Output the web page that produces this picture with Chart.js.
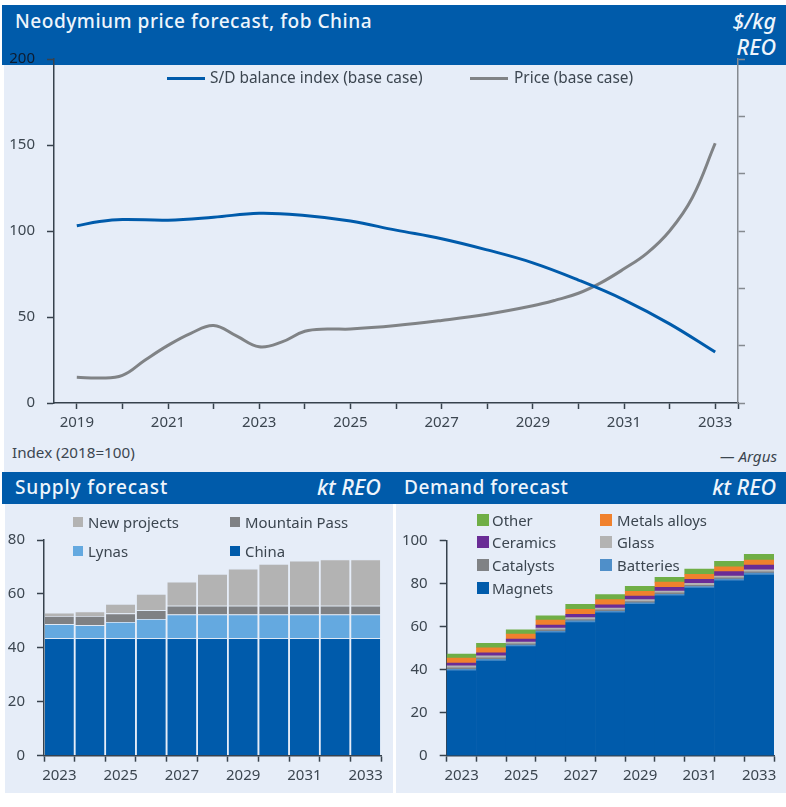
<!DOCTYPE html>
<html>
<head>
<meta charset="utf-8">
<script src="https://cdn.jsdelivr.net/npm/chart.js@4"></script>
<style>
    html, body { margin: 0; padding: 0; background: #fff; }
    body { position: relative; width: 786px; height: 807px; overflow: hidden; font-family: "Noto Sans", sans-serif; color: #3c4650; }
    .box { position: absolute; }
    .panel { background: #e6edf8; }
    .head { background: #005baa; }
    .txt { position: absolute; white-space: nowrap; line-height: 20px; margin-top: -10px; font-size: 14.9px; }
    .title { color: #eef5fc; font-size: 19.1px; font-weight: 500; letter-spacing: 0.5px; line-height: 26px; margin-top: -13px; }
    .unit { color: #eef5fc; font-size: 21.5px; font-weight: 500; font-style: italic; line-height: 26px; margin-top: -13px; }
    canvas { position: absolute; }
</style>
</head>
<body>
<div class="box panel" style="left:4px;top:65px;width:782px;height:407px"></div>
<div class="box panel" style="left:5px;top:504px;width:388px;height:289px"></div>
<div class="box panel" style="left:396px;top:504px;width:390px;height:289px"></div>
<div class="box head" style="left:2px;top:5px;width:784px;height:60px"></div>
<div class="box head" style="left:2px;top:472px;width:784px;height:32px"></div>

<div class="txt title" style="left:15px;top:21px">Neodymium price forecast, fob China</div>
<div class="txt unit" style="right:10px;top:21px">$/kg</div>
<div class="txt unit" style="right:10px;top:47px">REO</div>
<div class="txt title" style="left:15px;top:487px;letter-spacing:0.85px">Supply forecast</div>
<div class="txt unit" style="left:317px;top:487px">kt REO</div>
<div class="txt title" style="left:404px;top:487px">Demand forecast</div>
<div class="txt unit" style="right:10px;top:487px">kt REO</div>
<div class="txt" style="left:12px;top:452px;font-size:15.2px">Index (2018=100)</div>
<div class="txt" style="right:9px;top:456px;font-style:italic;font-size:15.2px">— Argus</div>

<canvas id="priceChart" style="left:0;top:38px" width="786" height="410"></canvas>
<canvas id="supplyChart" style="left:0;top:505px" width="395" height="295"></canvas>
<canvas id="demandChart" style="left:395px;top:505px" width="391" height="295"></canvas>
<div id="legends"></div>

<script>
// top chart (half years only where the curve bends)
const balanceYears = [2019, 2019.5, 2020, 2021, 2022, 2023, 2024, 2025, 2026, 2027, 2028, 2029, 2030, 2031, 2032, 2033];
const balanceValues = [103, 105.5, 106.7, 106.3, 108, 110.3, 109, 105.8, 100.5, 95.5, 89, 81.5, 71.5, 60, 46, 29.6];
const priceYears = [2019, 2019.5, 2020, 2020.5, 2021, 2021.5, 2022, 2022.5, 2023, 2023.5, 2024, 2024.5, 2025, 2026, 2027, 2028, 2029, 2029.5, 2030, 2030.5, 2031, 2031.5, 2032, 2032.5, 2033];
const priceValues = [15, 14.5, 16, 25, 33.5, 40.5, 45, 39, 32.7, 35.5, 41.7, 43, 43, 45, 48, 51.6, 56.5, 59.8, 63.8, 70, 78, 87, 100, 119.5, 151];
const axisYears = [2019, 2020, 2021, 2022, 2023, 2024, 2025, 2026, 2027, 2028, 2029, 2030, 2031, 2032, 2033, 2033.5];

// bottom charts
const forecastYears = ['2023', '2024', '2025', '2026', '2027', '2028', '2029', '2030', '2031', '2032', '2033'];

const china = [43.6, 43.6, 43.6, 43.6, 43.6, 43.6, 43.6, 43.6, 43.6, 43.6, 43.6];
const lynas = [5.2, 4.8, 6, 7.1, 8.8, 8.8, 8.8, 8.8, 8.8, 8.8, 8.8];
const mountainPass = [3, 3.4, 3.2, 3.3, 3.2, 3.2, 3.2, 3.2, 3.2, 3.2, 3.2];
const newProjects = [1.2, 1.7, 3.5, 6, 8.9, 11.8, 13.8, 15.5, 16.7, 17.2, 17.2];

const magnets = [39.5, 44, 50.7, 57.2, 61.9, 66.5, 70.4, 74.4, 78, 81.3, 84];
const batteries = [0.7, 0.8, 0.7, 0.7, 0.8, 0.7, 0.7, 0.7, 0.7, 0.8, 0.9];
const catalysts = [0.7, 0.7, 0.6, 0.6, 0.6, 0.6, 0.6, 0.6, 0.6, 0.6, 0.6];
const glass = [0.9, 0.9, 0.9, 0.9, 0.9, 0.9, 0.9, 0.9, 0.9, 0.9, 0.9];
const ceramics = [1.3, 1.4, 1.4, 1.4, 1.5, 1.5, 1.6, 1.7, 1.8, 2, 2.3];
const metalsAlloys = [2.3, 2.4, 2.3, 2.3, 2.4, 2.4, 2.3, 2.4, 2.4, 2.3, 2.3];
const other = [1.9, 2.1, 2, 2, 2.3, 2.3, 2.3, 2.3, 2.4, 2.5, 2.7];

const BLUE = '#005bab';
const GREY = '#808386';
const AXIS = '#37424d';
const TICK_FONT = { family: '"Noto Sans", sans-serif', size: 15 };

Chart.defaults.color = '#3c4650';
Chart.defaults.animation = false;

function toPoints(xs, ys) {
    return xs.map((x, i) => ({ x: x, y: ys[i] }));
}

// y axis with a fixed width so the plot sits where it should
function valueAxis(width, max, step, color, showLabels, position) {
    return {
        position: position,
        min: 0,
        max: max,
        afterFit: (axis) => { axis.width = width; },
        border: { color: color, width: 1.5 },
        grid: { drawOnChartArea: false, color: color, tickLength: 7, tickWidth: 1.5 },
        ticks: { stepSize: step, display: showLabels, padding: 12, font: TICK_FONT },
    };
}

const priceLeftAxis = valueAxis(54, 200, 50, AXIS, true, 'left');
// the 200 label sits on the blue header
priceLeftAxis.ticks.color = (ctx) => (ctx.tick.value === 200 ? '#0d1c30' : '#3c4650');

new Chart(document.getElementById('priceChart'), {
    type: 'line',
    data: {
        datasets: [
            { label: 'S/D balance index (base case)', data: toPoints(balanceYears, balanceValues), borderColor: BLUE, borderWidth: 3, tension: 0.4, pointRadius: 0, yAxisID: 'y' },
            { label: 'Price (base case)', data: toPoints(priceYears, priceValues), borderColor: GREY, borderWidth: 3, tension: 0.4, pointRadius: 0, yAxisID: 'y2' },
        ],
    },
    options: {
        responsive: false,
        layout: { autoPadding: false, padding: { top: 0 } },
        plugins: { legend: { display: false }, tooltip: { enabled: false } },
        scales: {
            x: {
                type: 'linear',
                min: 2018.5,
                max: 2033.5,
                afterBuildTicks: (axis) => { axis.ticks = axisYears.map((v) => ({ value: v })); },
                afterFit: (axis) => { axis.height = 45; },
                border: { color: AXIS, width: 1.5 },
                grid: { drawOnChartArea: false, color: AXIS, tickLength: 6, tickWidth: 1.5 },
                ticks: {
                    autoSkip: false,
                    maxRotation: 0,
                    padding: 5,
                    font: TICK_FONT,
                    callback: (v) => (Number.isInteger(v) && v % 2 === 1 ? String(v) : ''),
                },
            },
            y: priceLeftAxis,
            y2: valueAxis(48, 200, 33.33, '#858a90', false, 'right'),
        },
    },
});

function stackedChart(canvasId, series, yMax, leftWidth, rightPad, plotTop, barFill, seam) {
    new Chart(document.getElementById(canvasId), {
        type: 'bar',
        data: {
            labels: forecastYears,
            datasets: series.map((s) => ({
                label: s.label,
                data: s.values,
                backgroundColor: s.color,
                borderColor: '#dfe9f5',
                borderWidth: { top: seam, left: 0, right: 0, bottom: 0 },
                borderSkipped: false,
                barPercentage: 1,
                categoryPercentage: barFill,
            })),
        },
        options: {
            responsive: false,
            layout: { autoPadding: false, padding: { top: plotTop, right: rightPad } },
            plugins: { legend: { display: false }, tooltip: { enabled: false } },
            scales: {
                x: {
                    stacked: true,
                    afterFit: (axis) => { axis.height = 44.3; },
                    border: { color: AXIS, width: 1.5 },
                    grid: { drawOnChartArea: false, color: AXIS, tickLength: 6, tickWidth: 1.5 },
                    ticks: {
                        autoSkip: false,
                        maxRotation: 0,
                        padding: 5,
                        font: TICK_FONT,
                        callback: (v, i) => (i % 2 === 0 ? forecastYears[i] : ''),
                    },
                },
                y: Object.assign(valueAxis(leftWidth, yMax, 20, AXIS, true, 'left'), { stacked: true }),
            },
        },
    });
}

const supplySeries = [
    { label: 'China', values: china, color: BLUE },
    { label: 'Lynas', values: lynas, color: '#64a9e0' },
    { label: 'Mountain Pass', values: mountainPass, color: '#7f8184' },
    { label: 'New projects', values: newProjects, color: '#b3b3b3' },
];
const demandSeries = [
    { label: 'Magnets', values: magnets, color: BLUE },
    { label: 'Batteries', values: batteries, color: '#4f8fc9' },
    { label: 'Catalysts', values: catalysts, color: '#808285' },
    { label: 'Glass', values: glass, color: '#b3b3b3' },
    { label: 'Ceramics', values: ceramics, color: '#6a2c96' },
    { label: 'Metals alloys', values: metalsAlloys, color: '#f0812d' },
    { label: 'Other', values: other, color: '#6fae46' },
];

stackedChart('supplyChart', supplySeries, 80, 44, 14, 35, 0.95, 0.8);
stackedChart('demandChart', demandSeries, 100, 51.7, 12, 35.7, 1, 0);

// legends sit in two columns over the plots, so they are plain html
function legendEntry(label, color, markX, textX, y, markW, markH, size) {
    const holder = document.getElementById('legends');
    const mark = document.createElement('div');
    mark.className = 'box';
    mark.style.cssText = `left:${markX}px;top:${y - markH / 2}px;width:${markW}px;height:${markH}px;background:${color}`;
    holder.appendChild(mark);
    const text = document.createElement('div');
    text.className = 'txt';
    text.textContent = label;
    text.style.cssText = `left:${textX}px;top:${y}px;font-size:${size || 14.9}px`;
    holder.appendChild(text);
}

legendEntry('S/D balance index (base case)', BLUE, 167, 210, 78, 38, 3, 15.4);
legendEntry('Price (base case)', GREY, 470, 514, 78, 38, 3, 15.4);

legendEntry('New projects', '#b3b3b3', 73, 88, 522, 10, 10);
legendEntry('Mountain Pass', '#7f8184', 230, 245, 522, 10, 10);
legendEntry('Lynas', '#64a9e0', 73, 88, 551, 10, 10);
legendEntry('China', BLUE, 230, 245, 551, 10, 10);

legendEntry('Other', '#6fae46', 477, 492, 520, 12, 12);
legendEntry('Metals alloys', '#f0812d', 600, 617, 520, 12, 12);
legendEntry('Ceramics', '#6a2c96', 477, 492, 542, 12, 12);
legendEntry('Glass', '#b3b3b3', 600, 617, 542, 12, 12);
legendEntry('Catalysts', '#808285', 477, 492, 565, 12, 12);
legendEntry('Batteries', '#4f8fc9', 600, 617, 565, 12, 12);
legendEntry('Magnets', BLUE, 477, 492, 588, 12, 12);
</script>
</body>
</html>
